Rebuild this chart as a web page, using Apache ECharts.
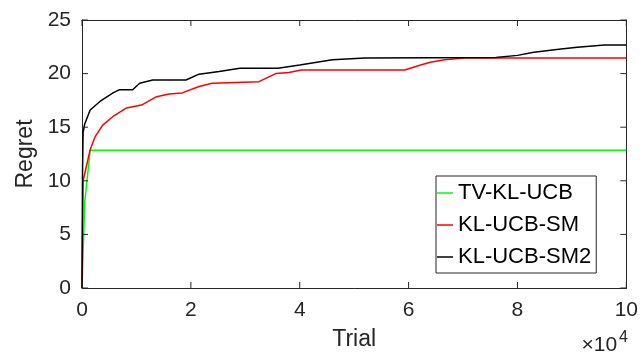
<!DOCTYPE html>
<html>
<head>
<meta charset="utf-8">
<script src="https://cdn.jsdelivr.net/npm/echarts@6/dist/echarts.min.js"></script>
<style>html,body{margin:0;padding:0;background:#fff}#c{width:641px;height:357px}</style>
</head>
<body>
<div id="c"></div>
<script>
// Trial numbers and regret values
const seriesNames = ['TV-KL-UCB', 'KL-UCB-SM', 'KL-UCB-SM2'];
const tvTrials = [0, 500, 1500, 100000];
const tvRegret = [0, 8, 12.85, 12.85];
const smTrials = [0, 200, 1500, 2400, 3800, 5700, 8200, 11100, 13700, 16000, 18400, 21500, 23900, 32500, 35600, 38000, 40300, 59300, 62200, 64000, 66600, 70300, 100000];
const smRegret = [0, 10, 12.9, 14.1, 15.2, 16.0, 16.8, 17.1, 17.85, 18.1, 18.2, 18.8, 19.1, 19.25, 20.0, 20.1, 20.34, 20.34, 20.8, 21.05, 21.3, 21.45, 21.45];
const sm2Trials = [0, 100, 200, 500, 1500, 3300, 5700, 6900, 9300, 10600, 13000, 19100, 21500, 25200, 29000, 36000, 40000, 46000, 52000, 76000, 80000, 83000, 88000, 91000, 96000, 100000];
const sm2Regret = [0, 11, 14.5, 15.3, 16.6, 17.4, 18.2, 18.5, 18.5, 19.1, 19.4, 19.4, 19.95, 20.2, 20.5, 20.5, 20.8, 21.3, 21.45, 21.5, 21.7, 22.0, 22.3, 22.45, 22.67, 22.67];
const xTicks = [0, 2, 4, 6, 8, 10];      // ×10^4 trials
const yTicks = [0, 5, 10, 15, 20, 25];

const zip = (a, b) => a.map((v, i) => [v, b[i]]);
const FONT = 'Liberation Sans, Arial, Helvetica, sans-serif';
const AX = '#262626';
const X_MAX = 100000, Y_MAX = 25, TICK = 6;

const chart = echarts.init(document.getElementById('c'));
function line() {
  return {show: true, onZero: false, lineStyle: {color: AX, width: 1}};
}
function tickLine(x1, y1, x2, y2) {
  return {type: 'line', shape: {x1: x1, y1: y1, x2: x2, y2: y2}, style: {stroke: AX, lineWidth: 1}};
}
chart.setOption({
  animation: false,
  grid: {left: 82, right: 11, top: 20, bottom: 69},
  xAxis: [
    {
      type: 'value', min: 0, max: X_MAX, interval: 20000, position: 'bottom',
      name: 'Trial', nameLocation: 'middle', nameGap: 40,
      nameTextStyle: {fontFamily: FONT, fontSize: 23, color: AX},
      axisLine: line(), axisTick: {show: false}, splitLine: {show: false},
      axisLabel: {fontFamily: FONT, fontSize: 21, color: AX, margin: 12,
        formatter: v => String(xTicks[Math.round(v / 20000)])}
    },
    {
      type: 'value', min: 0, max: X_MAX, interval: 20000, position: 'top',
      axisLine: line(), axisTick: {show: false}, splitLine: {show: false}, axisLabel: {show: false}
    }
  ],
  yAxis: [
    {
      type: 'value', min: 0, max: Y_MAX, interval: 5, position: 'left',
      name: 'Regret', nameLocation: 'middle', nameGap: 41, nameRotate: 90,
      nameTextStyle: {fontFamily: FONT, fontSize: 23, color: AX},
      axisLine: line(), axisTick: {show: false}, splitLine: {show: false},
      axisLabel: {fontFamily: FONT, fontSize: 21, color: AX, margin: 11,
        formatter: v => String(yTicks[Math.round(v / 5)])}
    },
    {
      type: 'value', min: 0, max: Y_MAX, interval: 5, position: 'right',
      axisLine: line(), axisTick: {show: false}, splitLine: {show: false}, axisLabel: {show: false}
    }
  ],
  legend: {
    orient: 'vertical', left: 436, top: 176,
    data: seriesNames,
    icon: 'rect', itemWidth: 16, itemHeight: 1.5, itemGap: 10,
    padding: [6, 5, 5, 1],
    borderColor: AX, borderWidth: 1, backgroundColor: '#fff',
    textStyle: {fontFamily: FONT, fontSize: 22, color: '#000', lineHeight: 21}
  },
  series: [
    {name: seriesNames[0], type: 'line', data: zip(tvTrials, tvRegret), symbol: 'none',
     lineStyle: {color: '#00ff00', width: 1.5}, itemStyle: {color: '#00ff00'}, z: 2},
    {name: seriesNames[1], type: 'line', data: zip(smTrials, smRegret), symbol: 'none',
     lineStyle: {color: '#ff0000', width: 1.5}, itemStyle: {color: '#ff0000'}, z: 3},
    {name: seriesNames[2], type: 'line', data: zip(sm2Trials, sm2Regret), symbol: 'none',
     lineStyle: {color: '#000000', width: 1.5}, itemStyle: {color: '#000000'}, z: 4},
    // inward tick marks on bottom/top edges, placed through the x scale
    {type: 'custom', name: 'xticks', silent: true, clip: false, z: 5,
     data: xTicks.map(t => [t * 10000, 0]),
     renderItem: (params, api) => {
       const x = api.value(0);
       const b = api.coord([x, 0]);
       const t = api.coord([x, Y_MAX]);
       return {type: 'group', children: [
         tickLine(b[0], b[1], b[0], b[1] - TICK),
         tickLine(t[0], t[1], t[0], t[1] + TICK)
       ]};
     }},
    // inward tick marks on left/right edges, placed through the y scale
    {type: 'custom', name: 'yticks', silent: true, clip: false, z: 5,
     data: yTicks.map(v => [0, v]),
     renderItem: (params, api) => {
       const y = api.value(1);
       const l = api.coord([0, y]);
       const r = api.coord([X_MAX, y]);
       return {type: 'group', children: [
         tickLine(l[0], l[1], l[0] + TICK, l[1]),
         tickLine(r[0], r[1], r[0] - TICK, r[1])
       ]};
     }}
  ],
  graphic: [{
    type: 'text', right: 13, top: 330,
    style: {
      text: '{a|×10}{b|4}',
      rich: {
        a: {fontFamily: FONT, fontSize: 21, fill: AX, verticalAlign: 'bottom', lineHeight: 26},
        b: {fontFamily: FONT, fontSize: 16, fill: AX, verticalAlign: 'top', lineHeight: 26, padding: [0, 0, 10, 2]}
      }
    }
  }]
});
</script>
</body>
</html>
